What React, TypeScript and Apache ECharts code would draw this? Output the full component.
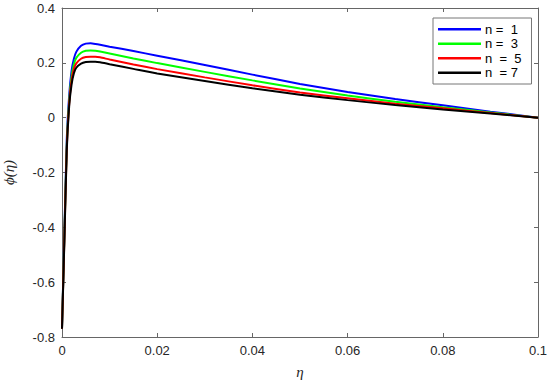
import React, { useEffect, useRef } from "react";
import * as echarts from "echarts";

const eta = [0, 0.0005, 0.001, 0.0015, 0.002, 0.0025, 0.003, 0.004, 0.005, 0.006, 0.007, 0.008, 0.01, 0.015, 0.02, 0.03, 0.04, 0.05, 0.06, 0.07, 0.08, 0.09, 0.1];
const phiN1 = [-0.77, -0.42, -0.08, 0.08, 0.17, 0.215, 0.24, 0.262, 0.27, 0.271, 0.269, 0.266, 0.259, 0.243, 0.226, 0.192, 0.157, 0.123, 0.094, 0.068, 0.045, 0.022, 0];
const phiN3 = [-0.77, -0.43, -0.1, 0.06, 0.15, 0.195, 0.218, 0.237, 0.244, 0.245, 0.244, 0.241, 0.234, 0.216, 0.199, 0.167, 0.136, 0.106, 0.081, 0.058, 0.038, 0.019, 0];
const phiN5 = [-0.77, -0.44, -0.11, 0.05, 0.135, 0.178, 0.198, 0.215, 0.221, 0.222, 0.222, 0.22, 0.212, 0.194, 0.177, 0.147, 0.118, 0.092, 0.071, 0.051, 0.034, 0.017, 0];
const phiN7 = [-0.77, -0.45, -0.12, 0.04, 0.12, 0.162, 0.182, 0.197, 0.203, 0.204, 0.204, 0.202, 0.195, 0.178, 0.161, 0.134, 0.107, 0.084, 0.064, 0.046, 0.03, 0.015, 0];

const seriesNames = ["n =  1", "n =  3", "n  =  5", "n  = 7"];
const seriesColors = ["#0000ff", "#00ff00", "#ff0000", "#000000"];
const seriesValues = [phiN1, phiN3, phiN5, phiN7];

const xTicks = [0, 0.02, 0.04, 0.06, 0.08, 0.1];
const yTicks = [-0.8, -0.6, -0.4, -0.2, 0, 0.2, 0.4];

export default function App() {
  const ref = useRef<HTMLDivElement>(null);
  useEffect(() => {
    if (!ref.current) return;
    const chart = echarts.init(ref.current, undefined, { renderer: "svg" });
    const axisColor = "#666666";
    const labelColor = "#262626";
    const fmtX = (v: number) => {
      const r = Math.round(v * 1000) / 1000;
      return xTicks.some((t) => Math.abs(t - r) < 1e-9) ? String(r) : "";
    };
    const fmtY = (v: number) => {
      const r = Math.round(v * 10) / 10;
      return yTicks.some((t) => Math.abs(t - r) < 1e-9) ? String(r) : "";
    };
    chart.setOption({
      animation: false,
      backgroundColor: "#ffffff",
      grid: { left: 62, right: 12, top: 8, bottom: 46, containLabel: false, outerBoundsMode: "none" },
      legend: {
        orient: "vertical",
        left: 433,
        top: 18,
        data: seriesNames.map((name) => ({ name, icon: "rect" })),
        itemWidth: 43,
        itemHeight: 2.5,
        itemGap: 0,
        padding: [4, 10, 4, 5],
        backgroundColor: "#ffffff",
        borderColor: "#777777",
        borderWidth: 1,
        borderRadius: 0,
        textStyle: { fontFamily: "Liberation Sans", fontSize: 13, lineHeight: 14.5, color: "#000000", padding: [0, 0, 0, -1] },
      },
      xAxis: [
        {
          type: "value",
          min: 0,
          max: 0.1,
          interval: 0.02,
          name: "η",
          nameLocation: "middle",
          nameGap: 27,
          nameTextStyle: { fontFamily: "Liberation Serif", fontStyle: "italic", fontSize: 15, color: labelColor },
          axisLine: { show: true, onZero: false, lineStyle: { color: axisColor, width: 1 } },
          axisTick: { show: true, inside: true, length: 4, lineStyle: { color: axisColor } },
          axisLabel: { formatter: fmtX, margin: 7, fontFamily: "Liberation Sans", fontSize: 13, color: labelColor },
          splitLine: { show: false },
        },
        {
          type: "value",
          position: "top",
          min: 0,
          max: 0.1,
          interval: 0.02,
          axisLine: { show: true, onZero: false, lineStyle: { color: axisColor, width: 1 } },
          axisTick: { show: true, inside: true, length: 4, lineStyle: { color: axisColor } },
          axisLabel: { show: false },
          splitLine: { show: false },
        },
      ],
      yAxis: [
        {
          type: "value",
          min: -0.8,
          max: 0.4,
          interval: 0.2,
          name: "ϕ(η)",
          nameLocation: "middle",
          nameGap: 46,
          nameRotate: 90,
          nameTextStyle: { fontFamily: "Liberation Serif", fontStyle: "italic", fontSize: 15, color: labelColor },
          axisLine: { show: true, onZero: false, lineStyle: { color: axisColor, width: 1 } },
          axisTick: { show: true, inside: true, length: 4, lineStyle: { color: axisColor } },
          axisLabel: { formatter: fmtY, margin: 7, fontFamily: "Liberation Sans", fontSize: 13, color: labelColor },
          splitLine: { show: false },
        },
        {
          type: "value",
          position: "right",
          min: -0.8,
          max: 0.4,
          interval: 0.2,
          axisLine: { show: true, onZero: false, lineStyle: { color: axisColor, width: 1 } },
          axisTick: { show: true, inside: true, length: 4, lineStyle: { color: axisColor } },
          axisLabel: { show: false },
          splitLine: { show: false },
        },
      ],
      series: seriesNames.map((name, i) => ({
        name,
        type: "line",
        xAxisIndex: 0,
        yAxisIndex: 0,
        data: eta.map((x, j) => [x, seriesValues[i][j]]),
        symbol: "none",
        smooth: 0.2,
        lineStyle: { color: seriesColors[i], width: 2 },
        itemStyle: { color: seriesColors[i] },
      })),
    });
    return () => chart.dispose();
  }, []);
  return (
    <div
      ref={ref}
      style={{ position: "fixed", left: 0, top: 0, width: 550, height: 383 }}
    />
  );
}
